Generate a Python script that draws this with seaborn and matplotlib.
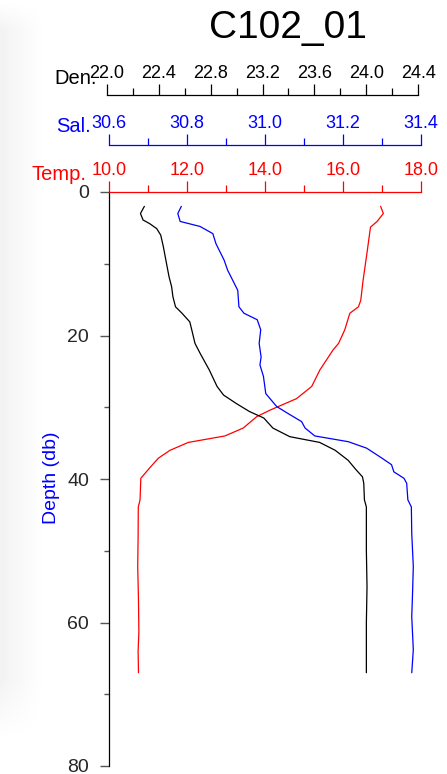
import numpy as np
import matplotlib
matplotlib.use("Agg")
import matplotlib.pyplot as plt
import seaborn as sns
from matplotlib.ticker import MultipleLocator, FormatStrFormatter

# ---------------- data ----------------
title = "C102_01"

temp_depth = [2.0, 3.0, 4.1, 4.9, 8.1, 12.3, 15.1, 16.0, 16.9, 18.3, 19.2, 21.1, 22.0,
              24.8, 27.1, 28.8, 30.4, 31.3, 32.9, 34.0, 34.9, 36.0, 37.1, 38.5, 39.9,
              42.9, 43.9, 48.0, 52.2, 57.0, 61.3, 64.0, 67.0]
temp_vals = [16.97, 17.04, 16.88, 16.71, 16.63, 16.52, 16.46, 16.40, 16.18, 16.10, 16.05,
             15.89, 15.75, 15.41, 15.20, 14.81, 14.13, 13.79, 13.44, 12.97, 12.03, 11.56,
             11.26, 11.03, 10.81, 10.79, 10.745, 10.74, 10.73, 10.75, 10.76, 10.74, 10.75]

sal_depth = [2.0, 3.0, 4.1, 4.8, 5.8, 7.2, 8.3, 9.5, 10.9, 12.3, 13.7, 16.0, 16.9, 17.8,
             19.2, 21.1, 23.0, 24.1, 25.7, 28.1, 29.9, 30.9, 32.0, 32.9, 34.0, 34.8, 35.7,
             36.9, 38.0, 39.0, 39.9, 40.6, 42.9, 43.9, 47.6, 52.2, 56.0, 59.2, 63.8, 67.0]
sal_vals = [30.785, 30.776, 30.782, 30.833, 30.866, 30.874, 30.884, 30.895, 30.904, 30.917,
            30.930, 30.933, 30.946, 30.980, 30.989, 30.985, 30.990, 30.987, 30.996, 31.002,
            31.030, 31.060, 31.094, 31.103, 31.128, 31.214, 31.261, 31.295, 31.325, 31.331,
            31.357, 31.364, 31.367, 31.376, 31.377, 31.381, 31.379, 31.377, 31.381, 31.377]

den_depth = [2.0, 3.0, 3.9, 4.4, 5.1, 6.0, 7.6, 9.9, 11.8, 13.2, 14.6, 16.0, 16.9, 18.1,
             19.2, 21.1, 22.5, 24.8, 27.1, 28.3, 29.5, 30.6, 31.5, 32.9, 34.1, 34.9, 36.0,
             37.4, 38.7, 39.7, 40.6, 42.9, 43.9, 50.0, 55.0, 60.0, 67.0]
den_vals = [22.29, 22.26, 22.28, 22.33, 22.385, 22.416, 22.436, 22.46, 22.48, 22.50, 22.51,
            22.53, 22.58, 22.64, 22.655, 22.68, 22.72, 22.79, 22.85, 22.90, 23.00, 23.10,
            23.21, 23.28, 23.41, 23.64, 23.76, 23.86, 23.92, 23.97, 23.98, 23.985, 24.00,
            24.00, 24.005, 24.00, 24.00]

temp_range = (10.0, 18.0)
sal_range = (30.6, 31.4)
den_range = (22.0, 24.4)
depth_range = (80, 0)

# ---------------- figure ----------------
sns.set_style("white")
plt.rcParams["font.family"] = ["Liberation Sans", "DejaVu Sans"]

W, H = 447, 774
fig = plt.figure(figsize=(W / 100, H / 100), dpi=100)


def fx(px):
    return px / W


def fy(py):
    return 1 - py / H


# subtle grey shading on the left edge
bg = fig.add_axes([0, 0, 1, 1], zorder=-10)
bg.set_xlim(0, W)
bg.set_ylim(H, 0)
bg.axis("off")
xx = np.arange(60)
yy = np.arange(H)
hfac = np.clip(1 - xx / 45.0, 0, 1)
vfac = np.clip((740 - yy) / 60.0, 0, 1) * np.clip(yy / 30.0, 0, 1)
img = 1 - 0.05 * np.outer(vfac, hfac)
bg.imshow(img, cmap="gray", vmin=0, vmax=1, extent=[0, 60, H, 0], aspect="auto")

main_pos = [fx(109.3), fy(766), fx(420.7) - fx(109.3), fy(192) - fy(766)]
den_pos = [fx(106.7), fy(766), fx(418.3) - fx(106.7), fy(192) - fy(766)]

LW = 0.9
TICKSIZE = 13


def style_top(ax, color, major, minor, offset_pt):
    for s in ["left", "right", "bottom"]:
        ax.spines[s].set_visible(False)
    ax.spines["top"].set_visible(True)
    ax.spines["top"].set_color(color)
    ax.spines["top"].set_linewidth(0.9)
    if offset_pt:
        ax.spines["top"].set_position(("outward", offset_pt))
    ax.xaxis.set_ticks_position("top")
    ax.xaxis.set_label_position("top")
    ax.xaxis.set_major_locator(MultipleLocator(major))
    ax.xaxis.set_minor_locator(MultipleLocator(minor))
    ax.xaxis.set_major_formatter(FormatStrFormatter("%.1f"))
    ax.tick_params(axis="x", which="major", direction="out", length=7.9, width=0.9,
                   color=color, labelcolor=color, labelsize=TICKSIZE, pad=1.3,
                   top=True, bottom=False, labeltop=True, labelbottom=False)
    ax.tick_params(axis="x", which="minor", direction="out", length=5.2, width=0.9,
                   color=color, top=True, bottom=False)
    ax.set_xlabel("")
    ax.set_ylabel("")


# Temperature (main axes)
ax = fig.add_axes(main_pos)
ax.patch.set_alpha(0)
sns.lineplot(x=temp_vals, y=temp_depth, orient="y", sort=False, estimator=None,
             color="#ff0000", lw=LW, ax=ax)
ax.set_xlim(*temp_range)
ax.set_ylim(*depth_range)
style_top(ax, "#ff0000", 2, 1, 0)
ax.spines["left"].set_visible(True)
ax.spines["left"].set_color("black")
ax.spines["left"].set_linewidth(0.9)
ax.yaxis.set_major_locator(MultipleLocator(20))
ax.yaxis.set_minor_locator(MultipleLocator(10))
ax.tick_params(axis="y", which="major", direction="out", length=6.5, width=1.0,
               color="#555555", labelsize=14, pad=8, left=True, right=False)
ax.tick_params(axis="y", which="minor", direction="out", length=3.6, width=1.0,
               color="#555555", left=True, right=False)

# Salinity
ax_s = fig.add_axes(main_pos)
ax_s.patch.set_alpha(0)
sns.lineplot(x=sal_vals, y=sal_depth, orient="y", sort=False, estimator=None,
             color="#0000ff", lw=LW, ax=ax_s)
ax_s.set_xlim(*sal_range)
ax_s.set_ylim(*depth_range)
style_top(ax_s, "#0000ff", 0.2, 0.1, 47 * 0.72)
ax_s.yaxis.set_visible(False)

# Density
ax_d = fig.add_axes(den_pos)
ax_d.patch.set_alpha(0)
sns.lineplot(x=den_vals, y=den_depth, orient="y", sort=False, estimator=None,
             color="black", lw=LW, ax=ax_d)
ax_d.set_xlim(*den_range)
ax_d.set_ylim(*depth_range)
style_top(ax_d, "black", 0.4, 0.2, 97 * 0.72)
ax_d.yaxis.set_visible(False)

# labels
fig.text(fx(97), fy(83.5), "Den.", ha="right", va="baseline", fontsize=14.5, color="black")
fig.text(fx(91), fy(132), "Sal.", ha="right", va="baseline", fontsize=14.5, color="#0000ff")
fig.text(fx(87), fy(179.5), "Temp.", ha="right", va="baseline", fontsize=14.5, color="#ff0000")
fig.text(fx(51), fy(478), "Depth (db)", rotation=90, ha="center", va="center",
         fontsize=14, color="#0000ff")
fig.text(fx(288), fy(38), title, ha="center", va="baseline", fontsize=28, color="black")

fig.savefig("out.png", dpi=100)
